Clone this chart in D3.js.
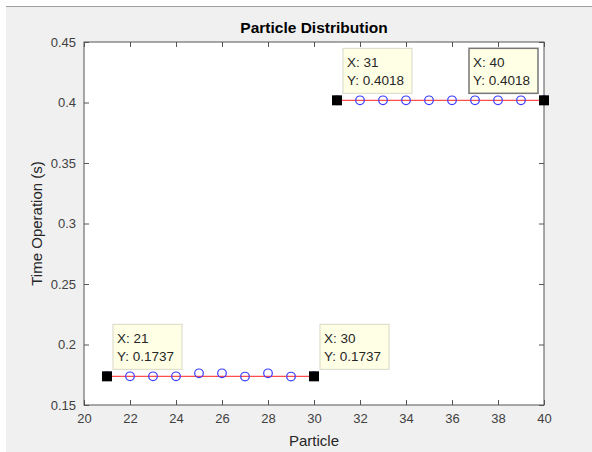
<!DOCTYPE html>
<meta charset="utf-8">
<style>
  body { margin: 0; background: #fff; }
  svg { display: block; font-family: "Liberation Sans", Arial, sans-serif; }
  .tick text { fill: #404040; font-size: 13px; }
  .tick line { stroke: #555; }
  .tip text { fill: #262626; font-size: 13.5px; }
</style>
<body>
<svg width="592" height="452"></svg>
<script src="https://d3js.org/d3.v7.min.js"></script>
<script>
// particle index and measured operation time
var particles = [21, 22, 23, 24, 25, 26, 27, 28, 29, 30,
                 31, 32, 33, 34, 35, 36, 37, 38, 39, 40];
var times = [0.1737, 0.1737, 0.1737, 0.1737, 0.1762, 0.1762, 0.1735, 0.1762, 0.1735, 0.1737,
             0.4018, 0.4018, 0.4018, 0.4018, 0.4018, 0.4018, 0.4018, 0.4018, 0.4018, 0.4018];
// red reference segments
var segStart = [21, 31];
var segEnd = [30, 40];
var segValue = [0.1737, 0.4018];
// data tips
var tipX = [21, 30, 31, 40];
var tipY = [0.1737, 0.1737, 0.4018, 0.4018];
var xTicks = [20, 22, 24, 26, 28, 30, 32, 34, 36, 38, 40];
var yTicks = [0.15, 0.2, 0.25, 0.3, 0.35, 0.4, 0.45];

var svg = d3.select("svg");
var pLeft = 84, pRight = 544, pTop = 42, pBottom = 405;

// figure background
svg.append("rect").attr("x", 6).attr("y", 6).attr("width", 586).attr("height", 446).attr("fill", "#f0f0f0");
svg.append("line").attr("x1", 6).attr("x2", 592).attr("y1", 6.5).attr("y2", 6.5).attr("stroke", "#a0a0a0");

var x = d3.scaleLinear().domain([20, 40]).range([pLeft, pRight]);
var y = d3.scaleLinear().domain([0.15, 0.45]).range([pBottom, pTop]);

svg.append("rect").attr("x", pLeft).attr("y", pTop).attr("width", pRight - pLeft).attr("height", pBottom - pTop).attr("fill", "#fff");

/* axes, ticks inside on all four sides */
svg.append("g").attr("transform", "translate(0," + pBottom + ")")
  .call(d3.axisBottom(x).tickValues(xTicks).tickSizeInner(-5).tickSizeOuter(0).tickPadding(9).tickFormat(d3.format("d")));
svg.append("g").attr("transform", "translate(0," + pTop + ")")
  .call(d3.axisTop(x).tickValues(xTicks).tickSizeInner(-5).tickSizeOuter(0).tickFormat(""));
svg.append("g").attr("transform", "translate(" + pLeft + ",0)")
  .call(d3.axisLeft(y).tickValues(yTicks).tickSizeInner(-5).tickSizeOuter(0).tickPadding(8).tickFormat(function(d) { return String(+d.toFixed(2)); }));
svg.append("g").attr("transform", "translate(" + pRight + ",0)")
  .call(d3.axisRight(y).tickValues(yTicks).tickSizeInner(-5).tickSizeOuter(0).tickFormat(""));
svg.selectAll(".domain").remove();
svg.append("rect").attr("x", pLeft).attr("y", pTop).attr("width", pRight - pLeft).attr("height", pBottom - pTop)
  .attr("fill", "none").attr("stroke", "#555").attr("stroke-width", 1);

// red lines
svg.append("g").selectAll("line").data(segStart).enter().append("line")
  .attr("x1", function(d) { return x(d); })
  .attr("x2", function(d, i) { return x(segEnd[i]); })
  .attr("y1", function(d, i) { return y(segValue[i]); })
  .attr("y2", function(d, i) { return y(segValue[i]); })
  .attr("stroke", "#ff4d4d").attr("stroke-width", 1.3);

// blue circles
svg.append("g").selectAll("circle").data(particles).enter().append("circle")
  .attr("cx", function(d) { return x(d); })
  .attr("cy", function(d, i) { return y(times[i]); })
  .attr("r", 4.3)
  .attr("fill", "none").attr("stroke", "#3a3aff").attr("stroke-width", 1.2);

// data tip markers and boxes
var tips = svg.append("g").attr("class", "tip").selectAll("g").data(tipX).enter().append("g");
tips.append("rect")
  .attr("x", function(d, i) { return x(d) - 5; })
  .attr("y", function(d, i) { return y(tipY[i]) - 5; })
  .attr("width", 10).attr("height", 10).attr("fill", "#000");
tips.append("rect")
  .attr("x", function(d, i) { return i == 3 ? x(d) - 75 : x(d) + 6; })
  .attr("y", function(d, i) { return y(tipY[i]) - 52; })
  .attr("width", 69).attr("height", 45)
  .attr("fill", "#ffffe6")
  .attr("stroke", function(d, i) { return i == 3 ? "#777" : "#d8d8c8"; })
  .attr("stroke-width", function(d, i) { return i == 3 ? 1.5 : 1; });
tips.append("text")
  .attr("x", function(d, i) { return (i == 3 ? x(d) - 75 : x(d) + 6) + 4; })
  .attr("y", function(d, i) { return y(tipY[i]) - 33; })
  .text(function(d) { return "X: " + d; });
tips.append("text")
  .attr("x", function(d, i) { return (i == 3 ? x(d) - 75 : x(d) + 6) + 4; })
  .attr("y", function(d, i) { return y(tipY[i]) - 15; })
  .text(function(d, i) { return "Y: " + tipY[i].toFixed(4); });

// title and labels
svg.append("text").attr("x", (pLeft + pRight) / 2).attr("y", 33).attr("text-anchor", "middle")
  .attr("font-size", "15.5px").attr("font-weight", "bold").attr("fill", "#000").text("Particle Distribution");
svg.append("text").attr("x", (pLeft + pRight) / 2).attr("y", 446).attr("text-anchor", "middle")
  .attr("font-size", "15px").attr("fill", "#262626").text("Particle");
svg.append("text").attr("transform", "translate(42," + (pTop + pBottom) / 2 + ") rotate(-90)").attr("text-anchor", "middle")
  .attr("font-size", "15px").attr("fill", "#262626").text("Time Operation (s)");
</script>
</body>
